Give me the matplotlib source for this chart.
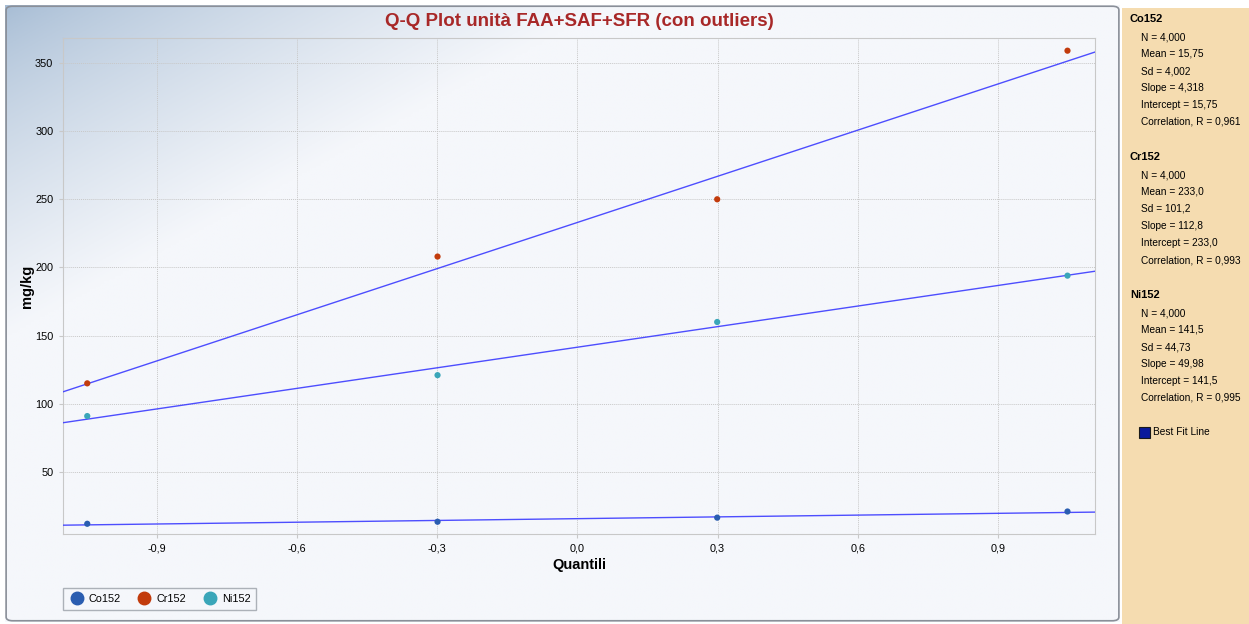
import numpy as np
import matplotlib
matplotlib.use("Agg")
import matplotlib.pyplot as plt
from matplotlib.patches import FancyBboxPatch, Rectangle
from matplotlib.ticker import FuncFormatter

# ---- data ----
quantiles = [-1.0491, -0.2993, 0.2993, 1.0491]
series_names = ["Co152", "Cr152", "Ni152"]
co_values = [12.0, 13.5, 16.5, 21.0]
cr_values = [115.0, 208.0, 250.0, 359.0]
ni_values = [91.0, 121.0, 160.0, 194.0]
series_colors = ["#2a5db0", "#c23b0c", "#3aa6b9"]
x_ticks = [-0.9, -0.6, -0.3, 0.0, 0.3, 0.6, 0.9]
y_ticks = [50, 100, 150, 200, 250, 300, 350]

stats = {
    "Co152": ["N = 4,000", "Mean = 15,75", "Sd = 4,002", "Slope = 4,318",
              "Intercept = 15,75", "Correlation, R = 0,961"],
    "Cr152": ["N = 4,000", "Mean = 233,0", "Sd = 101,2", "Slope = 112,8",
              "Intercept = 233,0", "Correlation, R = 0,993"],
    "Ni152": ["N = 4,000", "Mean = 141,5", "Sd = 44,73", "Slope = 49,98",
              "Intercept = 141,5", "Correlation, R = 0,995"],
}

plt.rcParams['font.family'] = ['Liberation Sans', 'DejaVu Sans']

W, H = 1249, 624
fig = plt.figure(figsize=(W / 100, H / 100), dpi=100)
fig.patch.set_facecolor("white")

def fx(px):
    return px / W

def fy(py):
    return 1 - py / H

# background gradient for chart panel
bg = fig.add_axes([fx(5), fy(622), fx(1120) - fx(5), fy(5) - fy(622)], zorder=0)
gx = np.linspace(0, 1115, 400)
gy = np.linspace(0, 617, 240)
GX, GY = np.meshgrid(gx, gy)
d = np.clip(GX / 600 + GY / 330, 0, 1) ** 0.75
c0 = np.array([166, 188, 212]) / 255
c1 = np.array([245, 247, 251]) / 255
img = c0[None, None, :] * (1 - d[..., None]) + c1[None, None, :] * d[..., None]
bg.imshow(img, aspect="auto", extent=[0, 1, 0, 1], origin="upper")
bg.set_xlim(0, 1)
bg.set_ylim(0, 1)
bg.axis("off")
border = FancyBboxPatch((0.001, 0.002), 0.998, 0.996, boxstyle="round,pad=0,rounding_size=0.006",
                        transform=bg.transAxes, fill=False, edgecolor="#8a8f98", linewidth=1.2)
bg.add_patch(border)

# right stats panel
rp = fig.add_axes([fx(1122), 0, 1 - fx(1122), fy(8)], zorder=0)
rp.set_xlim(0, 1)
rp.set_ylim(0, 1)
rp.add_patch(Rectangle((0, 0), 1, 1, facecolor="#f5dcb0", edgecolor="none", transform=rp.transAxes))
rp.axis("off")

y = 19
for name in series_names:
    fig.text(fx(1130), fy(y), name, fontsize=8, fontweight="bold", va="center", ha="left")
    y += 18
    for line in stats[name]:
        fig.text(fx(1141), fy(y), line, fontsize=7.3, va="center", ha="left")
        y += 17
    y += 18
# checkbox
fig.patches.append(Rectangle((fx(1139), fy(438)), 11 / W, 11 / H, transform=fig.transFigure,
                             facecolor="#0a1a9c", edgecolor="#1a1a1a", linewidth=0.8, zorder=5))
fig.text(fx(1153), fy(432), "Best Fit Line", fontsize=7.3, va="center", ha="left")

# main axes
ax = fig.add_axes([fx(63), fy(534), fx(1095) - fx(63), fy(38) - fy(534)], zorder=2)
ax.patch.set_alpha(0)
xlim = (-1.101, 1.108)
ylim = (4.5, 368.3)
ax.set_xlim(*xlim)
ax.set_ylim(*ylim)

all_values = [co_values, cr_values, ni_values]
q = np.array(quantiles)
xs = np.array(xlim)
for vals in all_values:
    v = np.array(vals)
    slope, intercept = np.polyfit(q, v, 1)
    ax.plot(xs, intercept + slope * xs, color="#3b3bff", linewidth=1.0, zorder=3, alpha=0.9)
for name, vals, col in zip(series_names, all_values, series_colors):
    ax.scatter(quantiles, vals, s=20, color=col, zorder=4, label=name, edgecolors="none")

ax.set_xticks(x_ticks)
ax.set_yticks(y_ticks)
ax.xaxis.set_major_formatter(FuncFormatter(lambda v, p: ("%.1f" % v).replace(".", ",").replace("-0,0", "0,0")))
ax.tick_params(axis="both", labelsize=7.8, length=3, color="#c8c8c8", pad=4)
ax.grid(True, color="#c8c8c8", linestyle=(0, (1, 1)), linewidth=0.7)
for s in ax.spines.values():
    s.set_color("#c8c8c8")
ax.set_xlabel("Quantili", fontsize=10.5, fontweight="bold", labelpad=3)
ax.set_ylabel("mg/kg", fontsize=10.5, fontweight="bold", labelpad=1)

fig.text(fx(579), fy(22), "Q-Q Plot unità FAA+SAF+SFR (con outliers)", color="#a82828",
         fontsize=13.5, fontweight="bold", ha="center", va="center")

handles = [plt.Line2D([], [], marker="o", linestyle="none", markersize=9, color=c) for c in series_colors]
leg = fig.legend(handles, series_names, loc="lower left", bbox_to_anchor=(fx(63), fy(610)),
                 borderaxespad=0, ncol=3, fontsize=7.8, frameon=True, fancybox=False, borderpad=0.55,
                 handletextpad=0.4, columnspacing=1.5, handlelength=1.4)
leg.get_frame().set_edgecolor("#9aa0a8")
leg.get_frame().set_facecolor("#f5f7fb")

fig.savefig("out.png", dpi=100)
